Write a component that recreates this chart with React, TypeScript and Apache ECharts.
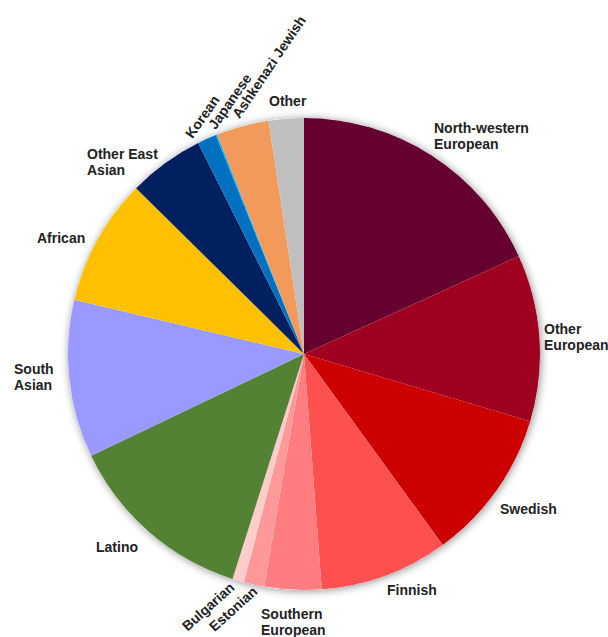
import React, { useEffect, useRef } from "react";
import * as echarts from "echarts";

const categories = [
  "North-western\nEuropean",
  "Other\nEuropean",
  "Swedish",
  "Finnish",
  "Southern\nEuropean",
  "Estonian",
  "Bulgarian",
  "Latino",
  "South\nAsian",
  "African",
  "Other East\nAsian",
  "Korean",
  "Japanese",
  "Ashkenazi Jewish",
  "Other",
];

const values = [18.2, 11.4, 10.4, 8.8, 3.9, 1.4, 0.8, 13.0, 10.8, 8.7, 5.2, 1.3, 0.1, 3.6, 2.4];

const colors = [
  "#650031",
  "#A00020",
  "#CC0000",
  "#FF5050",
  "#FF7C80",
  "#FF9999",
  "#FFCCCC",
  "#548235",
  "#9999FF",
  "#FFC000",
  "#002060",
  "#0070C0",
  "#00B0F0",
  "#F19A5C",
  "#BFBFBF",
];

// label anchor placement: [x, y, rotate, align, verticalAlign]
const labelPlacement: [number, number, number, string, string][] = [
  [434, 136, 0, "left", "middle"],
  [544, 337, 0, "left", "middle"],
  [500, 509, 0, "left", "middle"],
  [387, 590, 0, "left", "middle"],
  [261, 622, 0, "left", "middle"],
  [255, 589, 42, "right", "middle"],
  [232, 585, 42, "right", "middle"],
  [96, 547, 0, "left", "middle"],
  [14, 377, 0, "left", "middle"],
  [37, 238, 0, "left", "middle"],
  [87, 162, 0, "left", "middle"],
  [195, 141, 55, "left", "bottom"],
  [218, 132, 55, "left", "bottom"],
  [242, 121, 56, "left", "bottom"],
  [269, 101, 0, "left", "middle"],
];

export default function App() {
  const ref = useRef<HTMLDivElement>(null);
  useEffect(() => {
    if (!ref.current) return;
    const chart = echarts.init(ref.current, undefined, { renderer: "svg" });
    chart.setOption({
      animation: false,
      backgroundColor: "#ffffff",
      series: [
        {
          type: "pie",
          silent: true,
          center: [304, 354],
          radius: 236,
          z: 1,
          label: { show: false },
          labelLine: { show: false },
          data: [{ value: 1, name: "" }],
          itemStyle: {
            color: "#ffffff",
            shadowBlur: 8,
            shadowColor: "rgba(0,0,0,0.45)",
            shadowOffsetX: 1,
            shadowOffsetY: 1,
          },
        },
        {
          type: "pie",
          z: 2,
          center: [304, 354],
          radius: 236,
          startAngle: 90,
          clockwise: true,
          avoidLabelOverlap: false,
          data: categories.map((c, i) => ({
            name: c,
            value: values[i],
            itemStyle: { color: colors[i] },
          })),
          itemStyle: { borderWidth: 0 },
          label: {
            show: true,
            position: "outside",
            formatter: "{b}",
            fontFamily: "Liberation Sans, Arial, sans-serif",
            fontWeight: "bold",
            fontSize: 14,
            lineHeight: 16,
            color: "#222222",
          },
          labelLine: { show: false },
          labelLayout: (params: any) => {
            const p = labelPlacement[params.dataIndex];
            return {
              x: p[0],
              y: p[1],
              rotate: p[2],
              align: p[3],
              verticalAlign: p[4],
            };
          },
        },
      ],
    });
    return () => chart.dispose();
  }, []);
  return (
    <div
      ref={ref}
      style={{ position: "fixed", left: 0, top: 0, width: 608, height: 637 }}
    />
  );
}
